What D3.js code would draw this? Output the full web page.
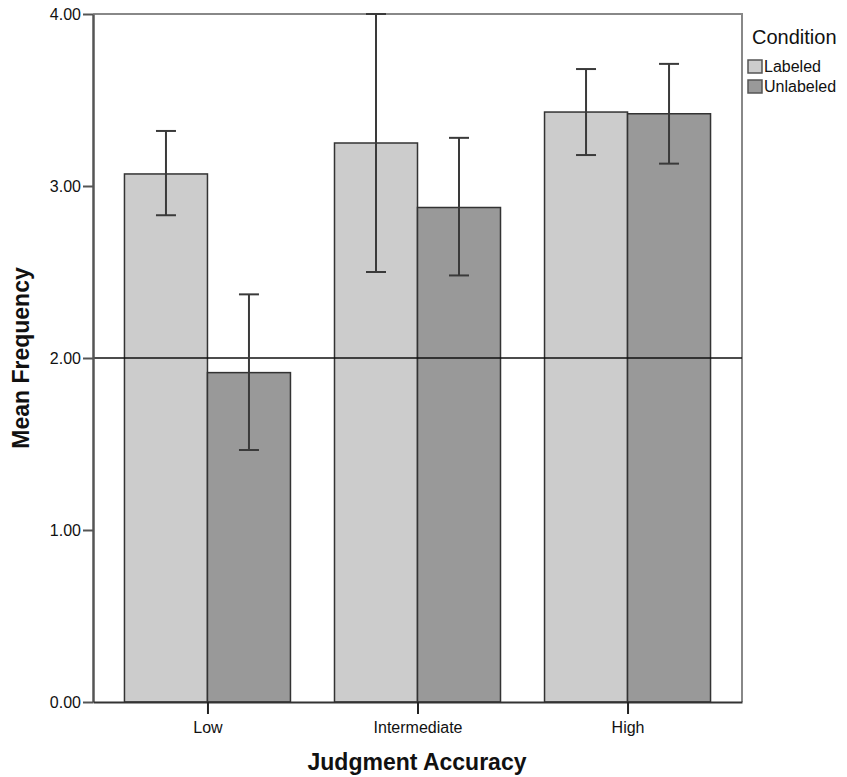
<!DOCTYPE html>
<html>
<head>
<meta charset="utf-8">
<script src="https://cdn.jsdelivr.net/npm/d3@7"></script>
<style>
  body { margin: 0; background: #fff; }
  svg { display: block; font-family: Arial, "Liberation Sans", sans-serif; }
</style>
</head>
<body>
<div id="plotContainer"></div>
<script>
// data
const categories = ["Low", "Intermediate", "High"];
const conditions = ["Labeled", "Unlabeled"];
const labeledMean = [3.07, 3.25, 3.43];
const labeledLower = [2.83, 2.50, 3.18];
const labeledUpper = [3.32, 4.00, 3.68];
const unlabeledMean = [1.915, 2.875, 3.42];
const unlabeledLower = [1.465, 2.48, 3.13];
const unlabeledUpper = [2.37, 3.28, 3.71];
const yTicks = [0, 1, 2, 3, 4];
const refValue = 2.0;

const W = 847, H = 777;
const plot = {left: 93, right: 742, top: 14, bottom: 702};

const svg = d3.select("#plotContainer")
  .append("svg")
    .attr("width", W)
    .attr("height", H);

const x = d3.scalePoint()
  .domain(categories)
  .range([plot.left, plot.right])
  .padding(0.545);

const barW = 83;
const sub = d3.scaleBand()
  .domain(conditions)
  .range([-barW, barW]);

const y = d3.scaleLinear()
  .domain([0, 4])
  .range([plot.bottom, plot.top]);

const color = d3.scaleOrdinal()
  .domain(conditions)
  .range(["#cccccc", "#999999"]);

const rows = [];
categories.forEach(function(c, i) {
  rows.push({cat: c, cond: "Labeled", mean: labeledMean[i], lo: labeledLower[i], hi: labeledUpper[i]});
  rows.push({cat: c, cond: "Unlabeled", mean: unlabeledMean[i], lo: unlabeledLower[i], hi: unlabeledUpper[i]});
});

// frame (top + right)
svg.append("path")
  .attr("d", `M${plot.left},${plot.top}H${plot.right}V${plot.bottom}`)
  .attr("fill", "none")
  .attr("stroke", "#888")
  .attr("stroke-width", 2);

// bars
svg.append("g")
  .selectAll("rect")
  .data(rows)
  .join("rect")
    .attr("x", d => x(d.cat) + sub(d.cond))
    .attr("y", d => y(d.mean))
    .attr("width", sub.bandwidth())
    .attr("height", d => y(0) - y(d.mean))
    .attr("fill", d => color(d.cond))
    .attr("stroke", "#333")
    .attr("stroke-width", 1.5);

// reference line at 2.00
svg.append("line")
  .attr("x1", plot.left).attr("x2", plot.right)
  .attr("y1", y(refValue)).attr("y2", y(refValue))
  .attr("stroke", "#111")
  .attr("stroke-width", 1.5);

// error bars
const eb = svg.append("g")
  .attr("stroke", "#3a3a3a")
  .attr("stroke-width", 2);
const capW = 10;
rows.forEach(function(d) {
  const cx = x(d.cat) + sub(d.cond) + sub.bandwidth() / 2;
  eb.append("line").attr("x1", cx).attr("x2", cx).attr("y1", y(d.lo)).attr("y2", y(d.hi));
  eb.append("line").attr("x1", cx - capW).attr("x2", cx + capW).attr("y1", y(d.lo)).attr("y2", y(d.lo));
  eb.append("line").attr("x1", cx - capW).attr("x2", cx + capW).attr("y1", y(d.hi)).attr("y2", y(d.hi));
});

// y axis
const yAxis = svg.append("g")
  .attr("transform", `translate(${plot.left},0)`)
  .call(d3.axisLeft(y).tickValues(yTicks).tickFormat(d3.format(".2f")).tickSize(10).tickSizeOuter(0).tickPadding(2));
yAxis.select(".domain").attr("stroke", "#555").attr("stroke-width", 2.5);
yAxis.selectAll(".tick line").attr("stroke", "#555").attr("stroke-width", 2);
yAxis.selectAll("text").attr("font-size", 16).attr("fill", "#111").attr("font-family", "Arial, 'Liberation Sans', sans-serif");

// x axis
const xAxis = svg.append("g")
  .attr("transform", `translate(0,${plot.bottom})`)
  .call(d3.axisBottom(x).tickSize(12).tickSizeOuter(0).tickPadding(8));
xAxis.select(".domain").attr("stroke", "#333").attr("stroke-width", 2);
xAxis.selectAll(".tick line").attr("stroke", "#222").attr("stroke-width", 2);
xAxis.selectAll("text").attr("font-size", 16).attr("fill", "#111").attr("font-family", "Arial, 'Liberation Sans', sans-serif");

// axis titles
svg.append("text")
  .attr("x", 417)
  .attr("y", 770)
  .attr("text-anchor", "middle")
  .attr("font-size", 23)
  .attr("font-weight", "bold")
  .attr("fill", "#111")
  .text("Judgment Accuracy");

svg.append("text")
  .attr("transform", `translate(29,${y(refValue)}) rotate(-90)`)
  .attr("text-anchor", "middle")
  .attr("font-size", 23)
  .attr("font-weight", "bold")
  .attr("fill", "#111")
  .text("Mean Frequency");

// legend
const legend = svg.append("g");
legend.append("text")
  .attr("x", 752).attr("y", 44)
  .attr("font-size", 20)
  .attr("fill", "#111")
  .text("Condition");
conditions.forEach(function(c, i) {
  const ly = 60 + i * 20;
  legend.append("rect")
    .attr("x", 748).attr("y", ly)
    .attr("width", 14).attr("height", 13)
    .attr("fill", color(c))
    .attr("stroke", "#555")
    .attr("stroke-width", 1.5);
  legend.append("text")
    .attr("x", 764).attr("y", ly + 12)
    .attr("font-size", 16)
    .attr("fill", "#111")
    .text(c);
});
</script>
</body>
</html>
